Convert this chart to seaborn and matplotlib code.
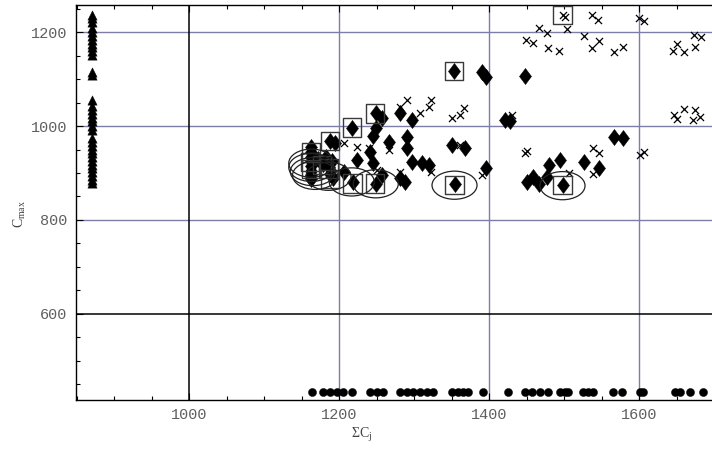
import matplotlib
matplotlib.use("Agg")
import matplotlib.pyplot as plt
import seaborn as sns
import numpy as np
from matplotlib.path import Path
from matplotlib.patches import Ellipse
from matplotlib.ticker import MultipleLocator

# --- data (sum Cj vs Cmax) ---
tri_x = 871
tri_y = [1237, 1230, 1222, 1210, 1200, 1192, 1184, 1176, 1168, 1160, 1152,
         1116, 1110, 1055, 1042, 1034, 1026, 1018, 1010, 1000, 992,
         975, 966, 958, 950, 942, 934, 926, 918, 910, 902, 894, 886, 878]

dot_y = 434
dot_x = [1164, 1179, 1188, 1197, 1205, 1217, 1241, 1251, 1259, 1281, 1291,
         1299, 1308, 1317, 1325, 1351, 1359, 1365, 1372, 1392, 1425, 1448,
         1457, 1468, 1479, 1495, 1501, 1505, 1525, 1532, 1539, 1565, 1577,
         1601, 1605, 1648, 1655, 1668, 1685]

dia_x = [1163, 1163, 1163, 1163, 1163, 1163, 1163, 1163,
         1172, 1178, 1182, 1186, 1190, 1188, 1192, 1188, 1195, 1206,
         1217, 1218, 1224, 1241, 1245, 1245, 1249, 1249, 1257, 1266, 1257, 1249,
         1281, 1297, 1290, 1290, 1297, 1310, 1320, 1281, 1288,
         1350, 1368, 1355, 1353, 1390, 1396, 1396,
         1421, 1428, 1448, 1450, 1458, 1466, 1477, 1480, 1494, 1498, 1526,
         1547, 1566, 1579]
dia_y = [955, 945, 935, 925, 915, 905, 895, 887,
         930, 920, 935, 912, 925, 898, 889, 968, 963, 903,
         997, 881, 927, 944, 921, 978, 995, 1027, 1017, 967, 896, 876,
         1027, 1012, 977, 953, 924, 921, 917, 890, 880,
         960, 953, 876, 1117, 1116, 1105, 910,
         1013, 1010, 1107, 881, 892, 876, 892, 917, 928, 874, 924,
         910, 976, 974]

crs_x = [1206, 1224, 1240, 1266, 1250, 1281, 1323, 1390, 1361,
         1281, 1290, 1308, 1320, 1323, 1350, 1361, 1366, 1430,
         1448, 1451, 1449, 1458, 1466, 1477, 1479, 1493, 1504,
         1498, 1501, 1526, 1537, 1546, 1537, 1545, 1566, 1578, 1600, 1606,
         1645, 1650, 1660, 1675, 1673, 1682,
         1646, 1650, 1660, 1675, 1672, 1681,
         1538, 1546, 1601, 1606, 1538, 1506]
crs_y = [963, 955, 953, 948, 906, 903, 903, 896, 960,
         1041, 1056, 1027, 1040, 1056, 1017, 1024, 1038, 1024,
         942, 946, 1184, 1178, 1209, 1198, 1166, 1161, 1207,
         1237, 1233, 1192, 1166, 1182, 1237, 1226, 1157, 1169, 1230, 1225,
         1161, 1175, 1157, 1169, 1194, 1189,
         1024, 1015, 1036, 1034, 1012, 1019,
         953, 943, 938, 945, 898, 899]

box_x = [1163, 1161, 1163, 1177, 1186, 1188, 1188, 1217, 1248, 1218, 1248,
         1353, 1354, 1498, 1498]
box_y = [944, 924, 909, 917, 910, 887, 968, 997, 1027, 878, 878,
         1117, 874, 874, 1237]

ring_x = [1163, 1163, 1165, 1168, 1186, 1217, 1249, 1354, 1498]
ring_y = [921, 912, 903, 895, 893, 881, 877, 874, 873]
ring_r = 30

sns.set_style("white")
plt.rcParams["mathtext.fontset"] = "custom"
plt.rcParams["mathtext.rm"] = "Liberation Serif"
plt.rcParams["mathtext.it"] = "Liberation Serif:italic"

fig = plt.figure(figsize=(7.12, 4.49), dpi=100)
ax = fig.add_axes([76 / 712, 49 / 449, 636 / 712, 394.7 / 449])

grid_c = "#7d7da8"
for gx in [1200, 1400, 1600]:
    ax.axvline(gx, color=grid_c, lw=1.0, zorder=0)
for gy in [800, 1000, 1200]:
    ax.axhline(gy, color=grid_c, lw=1.0, zorder=0)
ax.axvline(1000, color="black", lw=1.1, zorder=0.5)
ax.axhline(600, color="black", lw=1.1, zorder=0.5)

diamond = Path([(0, 1), (0.75, 0), (0, -1), (-0.75, 0), (0, 1)],
               [Path.MOVETO, Path.LINETO, Path.LINETO, Path.LINETO, Path.CLOSEPOLY])

sns.scatterplot(x=[tri_x] * len(tri_y), y=tri_y, marker="^", s=45,
                color="black", edgecolor="black", linewidth=0.3, ax=ax, zorder=3)
sns.scatterplot(x=dot_x, y=[dot_y] * len(dot_x), marker="o", s=34,
                color="black", edgecolor="black", linewidth=0.3, ax=ax, zorder=3)
sns.scatterplot(x=dia_x, y=dia_y, marker=diamond, s=135,
                color="black", edgecolor="black", linewidth=0.3, ax=ax, zorder=3)
sns.scatterplot(x=crs_x, y=crs_y, marker="x", s=26,
                color="black", linewidth=0.9, ax=ax, zorder=3)
sns.scatterplot(x=box_x, y=box_y, marker="s", s=175,
                facecolor="none", edgecolor="#3a3a3a", linewidth=1.0, ax=ax, zorder=4)
for cx, cy in zip(ring_x, ring_y):
    ax.add_patch(Ellipse((cx, cy), 2 * ring_r, 2 * ring_r, fill=False,
                         edgecolor="#222222", lw=0.9, zorder=4))

ax.set_xlim(849.3, 1697.3)
ax.set_ylim(416, 1257.6)

ax.xaxis.set_major_locator(MultipleLocator(200))
ax.xaxis.set_minor_locator(MultipleLocator(50))
ax.yaxis.set_major_locator(MultipleLocator(200))
ax.yaxis.set_minor_locator(MultipleLocator(50))
ax.tick_params(which="both", direction="in", top=True, bottom=True, left=True,
               right=False, color="black", width=0.8)
ax.tick_params(which="major", length=5, labelsize=11, labelcolor="#606060", pad=6)
ax.tick_params(which="minor", length=3)
for lab in ax.get_xticklabels() + ax.get_yticklabels():
    lab.set_fontfamily("Liberation Mono")

for side in ["left", "bottom", "top"]:
    ax.spines[side].set_color("black")
    ax.spines[side].set_linewidth(1.0)
ax.spines["right"].set_visible(False)

ax.set_xlabel(r"$\mathrm{\Sigma C_{j}}$", fontsize=10, color="#444444")
ax.set_ylabel(r"$\mathrm{C_{max}}$", fontsize=10, color="#444444")
ax.xaxis.set_label_coords((362 - 76) / 636, -0.065)
ax.yaxis.set_label_coords(-0.075, 0.47)

fig.savefig("out.png", dpi=100)
